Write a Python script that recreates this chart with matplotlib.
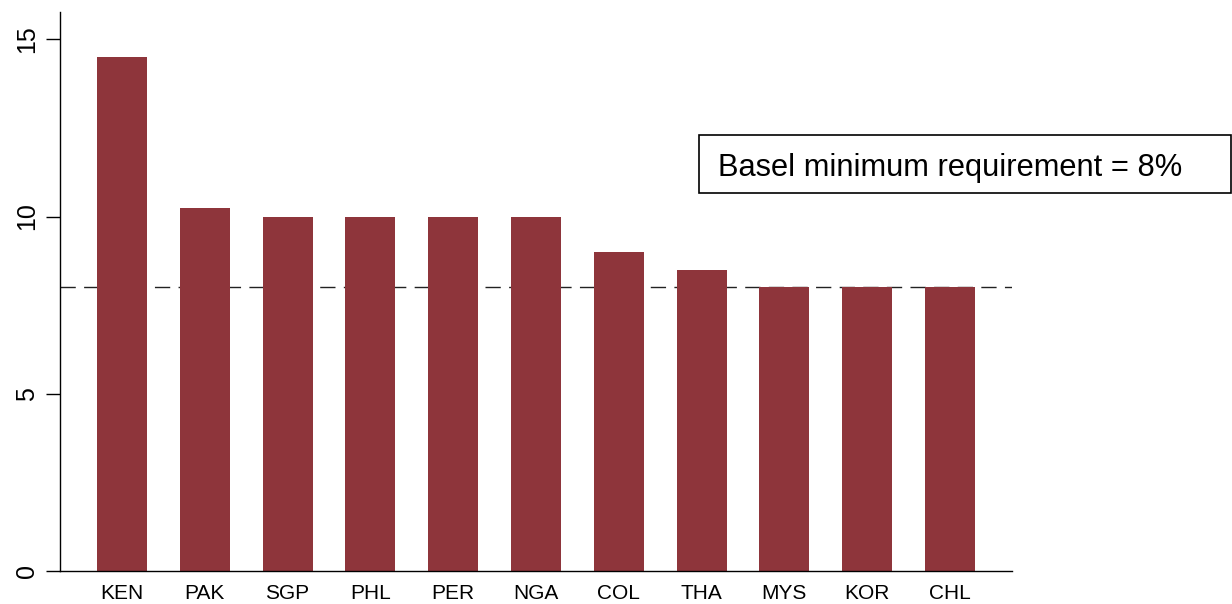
import matplotlib.pyplot as plt
import numpy as np
from matplotlib.patches import Rectangle

plt.rcParams['font.family'] = ['Liberation Sans', 'DejaVu Sans']

# capital adequacy requirement by country (%)
countries = ['KEN', 'PAK', 'SGP', 'PHL', 'PER', 'NGA', 'COL', 'THA', 'MYS', 'KOR', 'CHL']
values = [14.5, 10.25, 10.0, 10.0, 10.0, 10.0, 9.0, 8.5, 8.0, 8.0, 8.0]
basel_min = 8.0

fig = plt.figure(figsize=(12.32, 6.04), dpi=100)
ax = fig.add_axes([0.0487, 0.0546, 0.7727, 0.9255])

x = np.arange(len(countries))
ax.bar(x, values, width=0.604, color='#8E353B', zorder=2)
ax.axhline(basel_min, color='#222222', linewidth=1.0, dashes=(11, 6), zorder=1)

ax.set_xlim(-0.749, len(countries) - 1 + 0.749)
ax.set_ylim(0, 15.77)
ax.set_xticks(x)
ax.set_xticklabels(countries, fontsize=15)
ax.tick_params(axis='x', length=0, pad=9)
ax.set_yticks([0, 5, 10, 15])
ax.set_yticklabels(['0', '5', '10', '15'], fontsize=18, rotation=90, va='center')
ax.tick_params(axis='y', length=10, width=1, pad=5)

for side in ['top', 'right']:
    ax.spines[side].set_visible(False)
for side in ['left', 'bottom']:
    ax.spines[side].set_linewidth(1.0)

# annotation box
fig.patches.append(Rectangle((699 / 1232, 1 - 193 / 604), 532 / 1232, 58 / 604,
                             transform=fig.transFigure, facecolor='white',
                             edgecolor='black', linewidth=1.2, zorder=3))
fig.text(718 / 1232, 1 - 168 / 604, 'Basel minimum requirement = 8%', fontsize=22.2,
         ha='left', va='center', zorder=4)

fig.savefig('out.png', dpi=100)
